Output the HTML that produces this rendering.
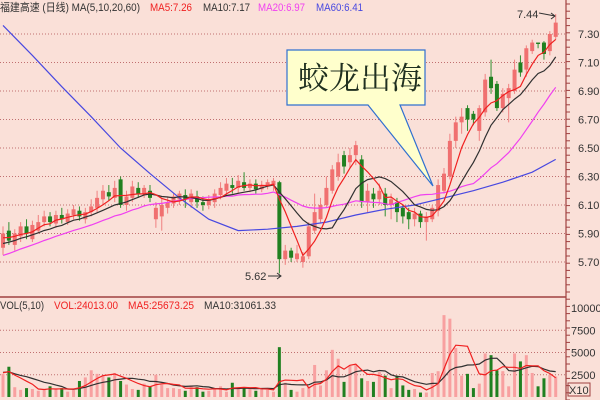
<!DOCTYPE html>
<html><head><meta charset="utf-8"><style>
body{margin:0;background:#fae0d8;}
svg{display:block;font-family:"Liberation Sans","Noto Sans CJK SC",sans-serif;}
</style></head><body>
<svg id="c" width="600" height="400"></svg>
<script>
const opens =[5.80,5.92,5.82,5.88,5.95,5.86,5.92,5.98,6.02,5.97,6.03,5.98,6.03,6.06,6.00,6.05,6.08,6.14,6.19,6.15,6.28,6.10,6.15,6.22,6.18,6.20,6.00,6.02,6.08,6.11,6.14,6.17,6.12,6.16,6.12,6.10,6.12,6.17,6.20,6.24,6.22,6.26,6.22,6.25,6.21,6.23,6.24,6.26,5.72,5.78,5.72,5.70,5.74,5.92,6.00,6.10,6.20,6.30,6.45,6.40,6.45,6.42,6.12,6.18,6.14,6.18,6.10,6.12,6.08,6.05,6.00,6.04,5.98,6.00,6.06,6.20,6.30,6.55,6.68,6.78,6.74,6.62,6.75,7.00,6.95,6.78,6.85,6.90,7.10,7.05,7.18,7.24,7.24,7.18,7.28];
const closes=[5.90,5.85,5.90,5.95,5.90,5.96,5.98,6.02,5.98,6.03,6.00,6.04,6.07,6.02,6.05,6.09,6.15,6.20,6.16,6.22,6.10,6.16,6.23,6.18,6.22,6.15,6.08,6.10,6.12,6.16,6.18,6.14,6.18,6.12,6.10,6.14,6.18,6.22,6.25,6.22,6.27,6.22,6.25,6.21,6.24,6.26,6.27,5.72,5.78,5.73,5.76,5.74,5.95,6.05,6.10,6.22,6.35,6.40,6.37,6.45,6.52,6.12,6.20,6.14,6.20,6.10,6.14,6.05,6.02,6.00,6.04,5.98,6.02,6.08,6.24,6.32,6.55,6.68,6.72,6.70,6.70,6.78,6.98,6.92,6.78,6.88,6.92,7.05,7.03,7.20,7.24,7.23,7.16,7.30,7.38];
const highs =[5.95,5.98,5.93,5.98,6.00,5.99,6.03,6.06,6.05,6.06,6.08,6.07,6.10,6.09,6.08,6.14,6.20,6.24,6.24,6.27,6.30,6.20,6.27,6.26,6.24,6.24,6.12,6.15,6.16,6.18,6.20,6.21,6.21,6.20,6.16,6.17,6.21,6.26,6.29,6.29,6.31,6.33,6.28,6.28,6.27,6.28,6.29,6.27,5.82,5.80,5.82,5.77,5.98,6.18,6.15,6.30,6.38,6.46,6.48,6.50,6.55,6.45,6.25,6.22,6.25,6.22,6.18,6.15,6.10,6.08,6.08,6.06,6.05,6.10,6.28,6.36,6.60,6.72,6.78,6.80,6.76,6.80,7.02,7.12,6.97,6.92,6.95,7.12,7.15,7.22,7.26,7.24,7.25,7.32,7.44];
const lows  =[5.75,5.82,5.78,5.84,5.86,5.84,5.90,5.95,5.95,5.94,5.97,5.96,6.00,5.99,5.97,6.02,6.05,6.10,6.13,6.12,6.08,6.06,6.12,6.15,6.15,6.12,5.94,5.92,6.04,6.08,6.10,6.08,6.08,6.08,6.06,6.07,6.08,6.14,6.16,6.18,6.18,6.20,6.19,6.18,6.19,6.21,6.20,5.62,5.68,5.70,5.70,5.66,5.72,5.90,5.97,6.08,6.18,6.27,6.32,6.36,6.38,6.08,6.05,6.08,6.10,6.02,6.00,5.98,5.97,5.93,5.95,5.94,5.85,5.98,6.02,6.18,6.28,6.50,6.60,6.62,6.66,6.55,6.72,6.88,6.76,6.75,6.68,6.88,7.00,7.00,7.16,7.20,7.12,7.15,7.26];
const priorCloses=[5.55,5.58,5.60,5.63,5.62,5.66,5.68,5.70,5.72,5.70,5.74,5.76,5.78,5.80,5.79,5.82,5.84,5.86,5.88,5.87];
const ma60Index=[0,5,10,15,20,25,30,35,40,45,50,55,60,65,70,75,80,85,90,94];
const ma60Values=[7.36,7.15,6.93,6.72,6.50,6.32,6.15,6.00,5.92,5.93,5.95,5.98,6.03,6.07,6.10,6.15,6.20,6.26,6.33,6.42];
const volumes=[2600,3400,1100,800,1000,900,700,800,1200,900,1000,600,800,1800,2200,3000,2600,2400,2200,2700,1800,1400,900,800,1500,1200,2500,1400,1000,1000,900,700,1300,1100,600,700,900,1200,600,1600,900,1100,1000,700,900,800,600,5600,1600,800,600,1000,1100,3600,1300,3000,5300,4300,1700,3500,3600,2100,1800,1700,2800,2400,1000,2400,1300,800,900,500,500,2700,2900,9200,8800,5500,2400,2600,1000,1500,4900,4700,3000,2900,1200,4900,4000,4700,2700,1200,2100,2500,2300];
const priorVolumes=[3000,2800,3200,2600,2500,2900,2700,3100,2400,2800];
const priceTicks=[7.30,7.10,6.90,6.70,6.50,6.30,6.10,5.90,5.70];
const volTicks=[10000,7500,5000,2500];

const NS='http://www.w3.org/2000/svg';
const svg=document.getElementById('c');
function mk(t,a,parent){const e=document.createElementNS(NS,t);for(const k in a)e.setAttribute(k,a[k]);(parent||svg).appendChild(e);return e;}
const X=i=>3+i*5.88;
const Y=p=>34+(7.30-p)*142.5;
const VY=v=>397-v*0.0089;
const AX=566;

priceTicks.forEach(t=>{
  const g=mk('line',{x1:0,x2:AX,y1:Y(t),y2:Y(t),stroke:'#c07070','stroke-dasharray':'1,2','stroke-width':1});
  
  
  const lb=mk('text',{x:578,y:Y(t)+4,'font-size':11,fill:'#333'});lb.textContent=t.toFixed(2);
  
  
});
volTicks.forEach(t=>{
  const g=mk('line',{x1:0,x2:AX,y1:VY(t),y2:VY(t),stroke:'#c07070','stroke-dasharray':'1,2','stroke-width':1});
  if(t===10000)g.setAttribute('stroke-opacity','0');
  
  
  const lb=mk('text',{x:571,y:VY(t)+4,'font-size':11,fill:'#333'});lb.textContent=t;
  
  
});
let e=mk('line',{x1:AX,x2:AX,y1:0,y2:400,stroke:'#a04040','stroke-width':1.2});

e=mk('line',{x1:0,x2:AX,y1:297,y2:297,stroke:'#a04040','stroke-width':1.5});

for(let y=4;y<400;y+=7.2){mk('line',{x1:AX,x2:AX+4,y1:y,y2:y,stroke:'#a04040','stroke-width':1});}

for(let i=0;i<closes.length;i++){
  const up=closes[i]>=opens[i];
  const col=up?'#f07070':'#208020';
  const x=X(i);
  const w=mk('line',{x1:x,x2:x,y1:Y(highs[i]),y2:Y(lows[i]),stroke:up?'#f08080':'#309030','stroke-width':1});
  
  
  const top=Y(Math.max(opens[i],closes[i])),h=Math.max(1,Math.abs(Y(opens[i])-Y(closes[i])));
  const r=mk('rect',{x:x-2,y:top,width:4,height:h,fill:col});
  
  
  const vb=mk('rect',{x:x-1.5,y:VY(volumes[i]),width:3,height:397-VY(volumes[i]),fill:up?'#f8a0a0':'#208020'});
  
  
}
function ma(arr,prior,n){const all=prior.concat(arr);return arr.map((_,i)=>{const j=i+prior.length;let s=0,c=0;for(let k=Math.max(0,j-n+1);k<=j;k++){s+=all[k];c++;}return s/c;});}
function line(vals,yf,color,name,idx){
  const pts=vals.map((v,i)=>X(idx?idx[i]:i).toFixed(1)+','+yf(v).toFixed(1)).join(' ');
  const p=mk('polyline',{points:pts,fill:'none',stroke:color,'stroke-width':1.2});
  
  
}
line(ma60Values,Y,'#4848e0','ma60-line',ma60Index);
line(ma(closes,priorCloses,20),Y,'#f040f0','ma20-line');
line(ma(closes,priorCloses,10),Y,'#303030','ma10-line');
line(ma(closes,priorCloses,5),Y,'#f02020','ma5-line');
line(ma(volumes,priorVolumes,10),VY,'#303030','vol-ma10-line');
line(ma(volumes,priorVolumes,5),VY,'#f02020','vol-ma5-line');

function txt(x,y,s,col,name,len){const a={x:x,y:y,'font-size':11,fill:col};if(len){a.textLength=len;a.lengthAdjust='spacingAndGlyphs';}
 const t=mk('text',a);t.textContent=s;
 return t;}
txt(0,11,'福建高速 (日线) MA(5,10,20,60)','#333','chart-title',140);
txt(150,11,'MA5:7.26','#f02020','ma5-legend',42);
txt(203,11,'MA10:7.17','#333','ma10-legend',47);
txt(258,11,'MA20:6.97','#f040f0','ma20-legend',47);
txt(316,11,'MA60:6.41','#4848e0','ma60-legend',47);
txt(0,309,'VOL(5,10)','#333','volume-title',44);
txt(54,309,'VOL:24013.00','#f02020','vol-legend',64);
txt(128,309,'MA5:25673.25','#f02020','vol-ma5-legend',66);
txt(204,309,'MA10:31061.33','#333','vol-ma10-legend',72);
txt(245,280,'5.62','#333','low-annotation');
e=mk('path',{d:'M268,276 L281,276 M277,273 L281,276 L277,279',stroke:'#333',fill:'none'});

txt(517,18,'7.44','#333','high-annotation');
e=mk('path',{d:'M539,13 L555,16 M551,13 L555,16 L551,19',stroke:'#333',fill:'none'});

e=mk('rect',{x:568,y:383,width:22,height:13,fill:'none',stroke:'#a04040'});

txt(569,394,'X10','#333','x10-label');

e=mk('path',{d:'M287,50 L425,50 L425,105 L400,105 L433,186 L368,105 L287,105 Z',fill:'#ffffcc',stroke:'#3070d0','stroke-width':1.2});

e=mk('text',{x:298,y:89,'font-size':31,fill:'#203020','font-family':'"Noto Serif CJK SC","Noto Sans CJK SC",serif'});
e.textContent='蛟龙出海';

</script>
</body></html>
